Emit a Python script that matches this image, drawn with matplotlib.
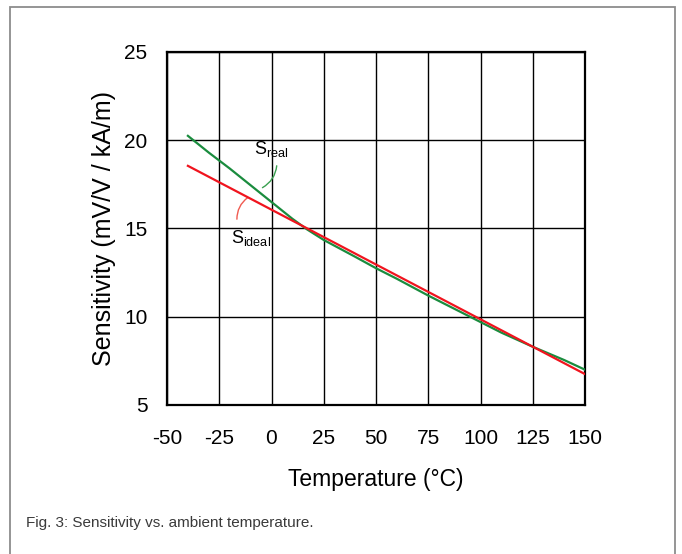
import matplotlib.pyplot as plt
from matplotlib.patches import Rectangle

t_real = [-40, -30, -25, -20, -10, 0, 10, 17, 25, 40, 50, 60, 75, 90, 100, 110, 125, 140, 150]
s_real = [20.25, 19.3, 18.85, 18.4, 17.45, 16.5, 15.55, 14.95, 14.35, 13.4, 12.75, 12.15,
          11.2, 10.3, 9.7, 9.1, 8.3, 7.55, 7.0]

# ideal linear sensitivity (red)
t_ideal = [-40, 150]
s_ideal = [18.55, 6.75]

xticks = [-50, -25, 0, 25, 50, 75, 100, 125, 150]
xlabels = ['-50', '-25', '0', '25', '50', '75', '100', '125', '150']
yticks = [5, 10, 15, 20, 25]

plt.rcParams['font.family'] = ['Liberation Sans', 'DejaVu Sans']

fig = plt.figure(figsize=(6.82, 5.54), dpi=100)
ax = fig.add_axes([167/682, 1-405/554, 418/682, 353/554])

ax.plot(t_real, s_real, color='#1a8c3e', lw=1.6, zorder=3)
ax.plot(t_ideal, s_ideal, color='#f0141e', lw=1.6, zorder=4)

ax.set_xlim(-50, 150)
ax.set_ylim(5, 25)
ax.set_xticks(xticks)
ax.set_xticklabels(xlabels)
ax.set_yticks(yticks)
ax.grid(True, color='black', lw=1.0)
ax.set_axisbelow(True)
for s in ax.spines.values():
    s.set_linewidth(1.6)
ax.tick_params(axis='both', length=0, labelsize=15)
ax.tick_params(axis='x', pad=17)
ax.tick_params(axis='y', pad=14)

ax.set_xlabel('Temperature (°C)', fontsize=16.5, labelpad=14.5)
ax.set_ylabel('Sensitivity (mV/V / kA/m)', fontsize=18, labelpad=6)

# curve labels with small leader lines
ax.text(-8.5, 19.5, r'S$_{\mathregular{real}}$', fontsize=13, ha='left', va='center')
ax.annotate('', xy=(-5.5, 17.24), xytext=(2.6, 18.71),
            arrowprops=dict(arrowstyle='-', color='#3aa050', lw=1.0,
                            connectionstyle='arc3,rad=-0.3'))
ax.text(-19.5, 14.45, r'S$_{\mathregular{ideal}}$', fontsize=13, ha='left', va='center')
ax.annotate('', xy=(-10.3, 16.84), xytext=(-16.5, 15.37),
            arrowprops=dict(arrowstyle='-', color='#f05a50', lw=1.0,
                            connectionstyle='arc3,rad=-0.3'))

# outer frame and caption
fig.patches.append(Rectangle((10/682, -0.02), 665/682, 1.02 - 7/554,
                             transform=fig.transFigure, fill=False,
                             edgecolor='#8c8c8c', lw=1.3))
fig.text(26/682, 1-523/554, 'Fig. 3: Sensitivity vs. ambient temperature.',
         fontsize=11, color='#3a3a3a', va='center', ha='left')

fig.savefig('out.png', dpi=100)
